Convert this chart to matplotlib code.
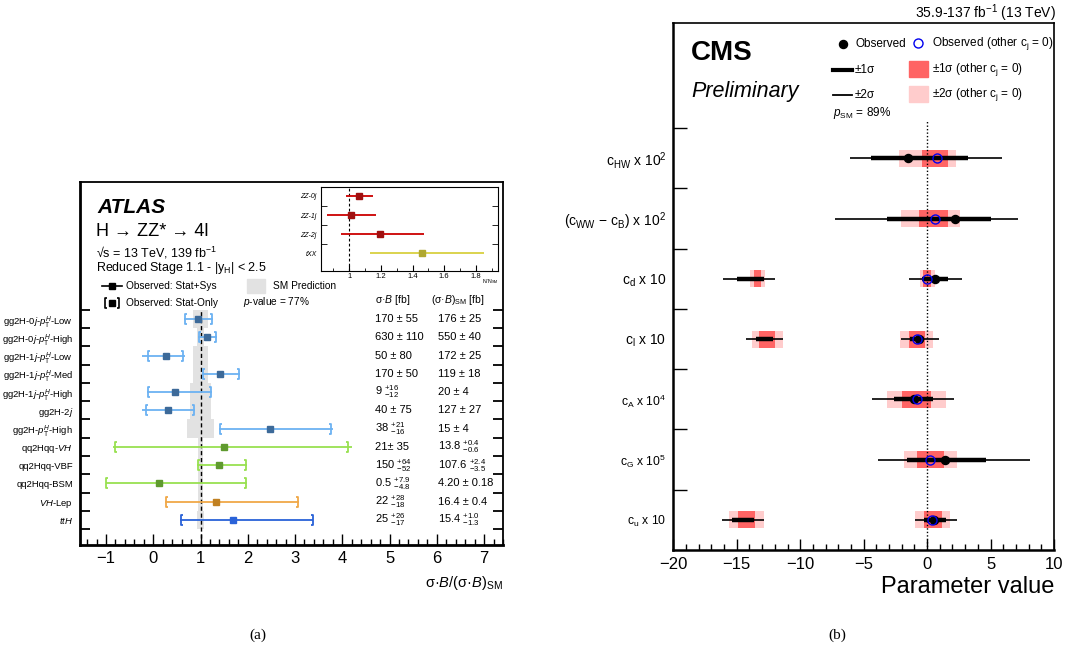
import numpy as np
import matplotlib.pyplot as plt
from matplotlib.path import Path

plt.rcParams['font.family'] = ['Liberation Sans', 'DejaVu Sans']
plt.rcParams['mathtext.fontset'] = 'custom'
plt.rcParams['mathtext.rm'] = 'Liberation Sans'
plt.rcParams['mathtext.it'] = 'Liberation Sans:italic'
plt.rcParams['mathtext.bf'] = 'Liberation Sans:bold'

W, H = 1069, 652

# ---------------- (a) ATLAS data, top row first ----------------
atlas_labels = [r'gg2H-0$j$-$p_{\rm T}^{H}$-Low', r'gg2H-0$j$-$p_{\rm T}^{H}$-High',
                r'gg2H-1$j$-$p_{\rm T}^{H}$-Low', r'gg2H-1$j$-$p_{\rm T}^{H}$-Med',
                r'gg2H-1$j$-$p_{\rm T}^{H}$-High', r'gg2H-2$j$',
                r'gg2H-$p_{\rm T}^{H}$-High', r'qq2Hqq-$VH$', 'qq2Hqq-VBF',
                'qq2Hqq-BSM', r'$VH$-Lep', r'$ttH$']
atlas_obs = [0.94, 1.13, 0.26, 1.41, 0.45, 0.32, 2.46, 1.49, 1.39, 0.12, 1.33, 1.68]
atlas_tot_lo = [0.64, 0.95, -0.23, 1.03, -0.13, -0.23, 1.40, -0.85, 0.92, -1.01, 0.25, 0.57]
atlas_tot_hi = [1.27, 1.34, 0.68, 1.84, 1.25, 0.89, 3.80, 4.20, 1.98, 1.99, 3.08, 3.39]
atlas_stat_lo = [0.67, 0.97, -0.11, 1.05, -0.11, -0.16, 1.42, -0.81, 0.94, -0.99, 0.27, 0.59]
atlas_stat_hi = [1.25, 1.32, 0.63, 1.82, 1.23, 0.87, 3.76, 4.11, 1.96, 1.97, 3.06, 3.37]
atlas_sm_unc = [0.15, 0.07, 0.15, 0.16, 0.22, 0.22, 0.29, 0.06, 0.05, 0.06, 0.05, 0.08]
atlas_xs = ['170 ± 55', '630 ± 110', '50 ± 80', '170 ± 50', r'9 $^{+16}_{-12}$',
            '40 ± 75', r'38 $^{+21}_{-16}$', '21± 35', r'150 $^{+64}_{-52}$',
            r'0.5 $^{+7.9}_{-4.8}$', r'22 $^{+28}_{-18}$', r'25 $^{+26}_{-17}$']
atlas_xs_sm = ['176 ± 25', '550 ± 40', '172 ± 25', '119 ± 18', '20 ± 4', '127 ± 27',
               '15 ± 4', r'13.8 $^{+0.4}_{-0.6}$', r'107.6 $^{+2.4}_{-3.5}$',
               '4.20 ± 0.18', '16.4 ± 0.4', r'15.4 $^{+1.0}_{-1.3}$']
line_cols = ['#6cb2f2'] * 7 + ['#98e050'] * 3 + ['#f0a848', '#2a62d8']
mark_cols = ['#3d6a99'] * 7 + ['#5f9a2e'] * 3 + ['#c08022', '#2a62d8']

# inset
zz_labels = ['ZZ-0j', 'ZZ-1j', 'ZZ-2j', 'tXX']
zz_val = [1.06, 1.01, 1.195, 1.46]
zz_lo = [0.98, 0.86, 0.95, 1.13]
zz_hi = [1.15, 1.17, 1.47, 1.85]
zz_line = ['#cc0000', '#cc0000', '#cc0000', '#d8d040']
zz_mark = ['#a01010', '#a01010', '#a01010', '#b0a830']

# ---------------- (b) CMS data, top row first ----------------
cms_labels = [r'c$_{\rm HW}$ x 10$^2$', r'(c$_{\rm WW}$ $-$ c$_{\rm B}$) x 10$^2$',
              r'c$_{\rm d}$ x 10', r'c$_{\rm l}$ x 10', r'c$_{\rm A}$ x 10$^4$',
              r'c$_{\rm G}$ x 10$^5$', r'c$_{\rm u}$ x 10']
cms_obs = [-1.47, 2.18, 0.61, -0.60, -1.00, 1.42, 0.53]
cms_obs_other = [0.76, 0.61, -0.03, -0.81, -0.81, 0.24, 0.42]
cms_1s = [[(-4.44, 3.26)], [(-3.13, 5.02)], [(-14.96, -12.85), (-0.42, 1.63)],
          [(-13.49, -12.12), (-1.34, -0.21)], [(-2.58, 0.45)], [(-1.55, 4.63)],
          [(-15.35, -13.62), (-0.21, 1.47)]]
cms_2s = [[(-6.07, 5.89)], [(-7.23, 7.15)], [(-16.06, -11.96), (-1.39, 2.73)],
          [(-14.27, -11.33), (-2.05, 0.95)], [(-4.36, 2.15)], [(-3.84, 8.07)],
          [(-16.19, -12.85), (-0.95, 2.34)]]
cms_band1 = [[(-0.42, 1.63)], [(-0.60, 1.68)], [(-13.67, -13.07), (-0.29, 0.32)],
             [(-13.22, -11.96), (-1.39, -0.16)], [(-1.95, 0.32)], [(-0.76, 1.34)],
             [(-14.93, -13.56), (-0.21, 1.16)]]
cms_band2 = [[(-2.21, 2.29)], [(-2.05, 2.63)], [(-13.96, -12.80), (-0.55, 0.61)],
             [(-13.78, -11.33), (-2.13, 0.45)], [(-3.15, 1.47)], [(-1.81, 2.39)],
             [(-15.62, -12.85), (-0.95, 1.81)]]


def fx(px):
    return px / W


def fy(py):
    return 1 - py / H


def rect(l, t, r, b):
    return [fx(l), fy(b), fx(r) - fx(l), fy(t) - fy(b)]


lbrack = Path([(0.45, -1), (0, -1), (0, 1), (0.45, 1)])
rbrack = Path([(-0.45, -1), (0, -1), (0, 1), (-0.45, 1)])

fig = plt.figure(figsize=(W / 100, H / 100), dpi=100)

# ================= panel (a) =================
ax = fig.add_axes(rect(80, 182, 503, 545))
n = len(atlas_labels)
y = np.arange(n)[::-1]
ax.barh(y, 2 * np.array(atlas_sm_unc), left=1 - np.array(atlas_sm_unc), height=1.0,
        color='#e2e2e2', zorder=1)
ax.vlines(1, -1.37, 11.5, colors='k', linestyles=(0, (3, 2)), lw=1, zorder=2)
for i in range(n):
    ax.hlines(y[i], atlas_tot_lo[i], atlas_tot_hi[i], colors=line_cols[i], lw=1.3, zorder=3)
    ax.plot(atlas_stat_lo[i], y[i], marker=lbrack, ms=7, mew=1.3, mfc='none',
            mec=line_cols[i], ls='none', zorder=3)
    ax.plot(atlas_stat_hi[i], y[i], marker=rbrack, ms=7, mew=1.3, mfc='none',
            mec=line_cols[i], ls='none', zorder=3)
    ax.plot(atlas_obs[i], y[i], 's', ms=4.3, color=mark_cols[i], zorder=4)
    ax.text(4.69, y[i], atlas_xs[i], fontsize=8, va='center', ha='left')
    ax.text(6.03, y[i], atlas_xs_sm[i], fontsize=8, va='center', ha='left')

ax.set_xlim(-1.55, 7.4)
ax.set_ylim(-1.37, 18.5)
ax.set_yticks(y)
ax.set_yticklabels(atlas_labels, fontsize=6.8)
ax.set_yticks(np.arange(-0.5, n, 1), minor=True)
ax.tick_params(axis='y', which='major', length=0, pad=5)
ax.tick_params(axis='y', which='minor', direction='in', length=7, width=1.3,
               left=True, right=True)
ax.set_xticks(np.arange(-1, 8, 1))
ax.set_xticks(np.arange(-1.4, 7.41, 0.2), minor=True)
ax.tick_params(axis='x', which='major', direction='in', length=8, width=1,
               labelsize=12, pad=4)
ax.tick_params(axis='x', which='minor', direction='in', length=4, width=1)
ax.set_xticklabels(['\u22121', '0', '1', '2', '3', '4', '5', '6', '7'])
for s in ax.spines.values():
    s.set_linewidth(1.3)
ax.spines['bottom'].set_linewidth(2)
ax.spines['left'].set_linewidth(2)

ax.text(4.7, 12.05, r'σ·$B$ [fb]', fontsize=7.5, va='center')
ax.text(5.88, 12.05, r'(σ·$B$)$_{\rm SM}$ [fb]', fontsize=7.5, va='center')

fig.text(fx(97), fy(207), 'ATLAS', fontsize=15, fontweight='bold', fontstyle='italic',
         va='center')
fig.text(fx(96), fy(231), 'H \u2192 ZZ* \u2192 4l', fontsize=13, va='center')
fig.text(fx(96), fy(253), '\u221As = 13 TeV, 139 fb$^{-1}$', fontsize=9, va='center')
fig.text(fx(96), fy(268), r'Reduced Stage 1.1 - |y$_{\rm H}$| < 2.5', fontsize=9, va='center')

# legend of panel (a)
lg = fig.add_axes([0, 0, 1, 1], zorder=5)
lg.set_xlim(0, W)
lg.set_ylim(H, 0)
lg.axis('off')
lg.plot([102, 122], [286, 286], color='k', lw=1.2)
lg.plot(112, 286, 's', ms=4.3, color='k')
lg.text(126, 286, 'Observed: Stat+Sys', fontsize=7.3, va='center')
lg.plot(105, 303, marker=lbrack, ms=7, mew=1.2, mfc='none', mec='k')
lg.plot(119, 303, marker=rbrack, ms=7, mew=1.2, mfc='none', mec='k')
lg.plot(112, 303, 's', ms=4.3, color='k')
lg.text(126, 303, 'Observed: Stat-Only', fontsize=7.3, va='center')
lg.add_patch(plt.Rectangle((247, 279), 18, 14, color='#e2e2e2'))
lg.text(273, 286, 'SM Prediction', fontsize=7.3, va='center')
lg.text(243, 302, r'$p$-value = 77%', fontsize=7.3, va='center')

# inset
ins = fig.add_axes(rect(320.7, 187, 498, 270.7), zorder=6)
ins.set_facecolor('white')
yi = np.arange(len(zz_labels))[::-1]
ins.vlines(1, -0.91, 3.47, colors='k', linestyles=(0, (2.5, 2)), lw=0.8)
for i in range(len(zz_labels)):
    ins.hlines(yi[i], zz_lo[i], zz_hi[i], colors=zz_line[i], lw=1.3)
    ins.plot(zz_val[i], yi[i], 's', ms=4, color=zz_mark[i])
ins.set_xlim(0.82, 1.94)
ins.set_ylim(-0.91, 3.47)
ins.set_yticks(yi)
ins.set_yticklabels(zz_labels, fontsize=5, fontstyle='italic')
ins.set_yticks(np.arange(0.5, 3, 1), minor=True)
ins.tick_params(axis='y', which='major', length=0, pad=3)
ins.tick_params(axis='y', which='minor', direction='in', length=4, left=True, right=True)
ins.set_xticks([1, 1.2, 1.4, 1.6, 1.8])
ins.set_xticklabels(['1', '1.2', '1.4', '1.6', '1.8'])
ins.set_xticks(np.arange(0.9, 1.95, 0.1), minor=True)
ins.tick_params(axis='x', which='major', direction='in', length=4, labelsize=5.5, pad=2)
ins.tick_params(axis='x', which='minor', direction='in', length=2)
fig.text(fx(498), fy(282), r'N/N$_{\rm SM}$', fontsize=3.8, ha='right', va='center')

fig.text(fx(503), fy(583), r'σ·$B$/(σ·$B$)$_{\rm SM}$', fontsize=10.5, ha='right',
         va='center')

# ================= panel (b) =================
bx = fig.add_axes(rect(673.3, 22.7, 1054, 550))
m = len(cms_labels)
yc = np.arange(m)[::-1]
for i in range(m):
    for lo, hi in cms_band2[i]:
        bx.barh(yc[i], hi - lo, left=lo, height=0.28, color='#ffcccc', zorder=1)
    for lo, hi in cms_band1[i]:
        bx.barh(yc[i], hi - lo, left=lo, height=0.28, color='#ff6464', zorder=2)
    for lo, hi in cms_2s[i]:
        bx.hlines(yc[i], lo, hi, colors='k', lw=1.2, zorder=3)
    for lo, hi in cms_1s[i]:
        bx.hlines(yc[i], lo, hi, colors='k', lw=3.2, zorder=3)
bx.plot(cms_obs, yc, 'o', ms=5.8, color='k', zorder=4, ls='none')
bx.plot(cms_obs_other, yc, 'o', ms=6.5, mfc='none', mec='#0000ee', mew=1, zorder=5,
        ls='none')
bx.vlines(0, -0.5, 6.62, colors='k', linestyles=(0, (1, 1.5)), lw=1, zorder=2.5)

bx.set_xlim(-20, 10)
bx.set_ylim(-0.5, 8.25)
bx.set_yticks(yc)
bx.set_yticklabels(cms_labels)
for k, t in enumerate(bx.get_yticklabels()):
    t.set_fontsize(10 if k < 4 else 8.7)
bx.set_yticks(np.arange(0.5, m, 1), minor=True)
bx.tick_params(axis='y', which='major', length=0, pad=5)
bx.tick_params(axis='y', which='minor', direction='in', length=10, width=1)
bx.set_xticks(np.arange(-20, 11, 5))
bx.set_xticklabels(['\u221220', '\u221215', '\u221210', '\u22125', '0', '5', '10'])
bx.set_xticks(np.arange(-20, 10.1, 1), minor=True)
bx.tick_params(axis='x', which='major', direction='in', length=8, width=1,
               labelsize=12, pad=5)
bx.tick_params(axis='x', which='minor', direction='in', length=4, width=1)
for s in bx.spines.values():
    s.set_linewidth(1.2)
bx.spines['bottom'].set_linewidth(1.8)
bx.spines['left'].set_linewidth(1.8)

fig.text(fx(1054), fy(587), 'Parameter value', fontsize=17, ha='right', va='center')
fig.text(fx(1056), fy(13), r'35.9-137 fb$^{-1}$ (13 TeV)', fontsize=10, ha='right',
         va='center')
fig.text(fx(691), fy(53), 'CMS', fontsize=20, fontweight='bold', va='center')
fig.text(fx(691), fy(91), 'Preliminary', fontsize=15.5, fontstyle='italic', va='center')

# legend of panel (b)
lg.plot(843, 44, 'o', ms=5.8, color='k')
lg.text(855, 44, 'Observed', fontsize=8.5, va='center')
lg.plot(918, 43, 'o', ms=6.5, mfc='none', mec='#0000ee', mew=1)
lg.text(932, 44, r'Observed (other c$_{\rm j}$ = 0)', fontsize=8.5, va='center')
lg.plot([833, 852], [70, 70], color='k', lw=3)
lg.text(855, 70, '±1σ', fontsize=8.5, va='center')
lg.add_patch(plt.Rectangle((909, 61), 19, 16, color='#ff6464'))
lg.text(932, 70, r'±1σ (other c$_{\rm j}$ = 0)', fontsize=8.5, va='center')
lg.plot([833, 852], [95, 95], color='k', lw=1.3)
lg.text(855, 95, '±2σ', fontsize=8.5, va='center')
lg.add_patch(plt.Rectangle((909, 86), 19, 16, color='#ffcccc'))
lg.text(932, 95, r'±2σ (other c$_{\rm j}$ = 0)', fontsize=8.5, va='center')
lg.text(833, 113, r'$p$$_{\rm SM}$ = 89%', fontsize=8.5, va='center')

# captions
fig.text(fx(258), fy(635), '(a)', fontsize=11, family='Liberation Serif',
         ha='center', va='center')
fig.text(fx(837), fy(635), '(b)', fontsize=11, family='Liberation Serif',
         ha='center', va='center')

fig.savefig('out.png', dpi=100)
